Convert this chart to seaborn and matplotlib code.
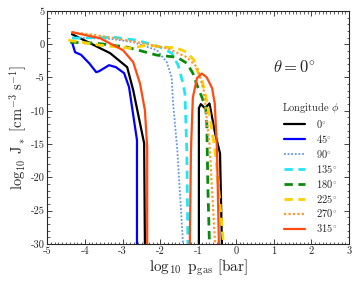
import numpy as np
import matplotlib
matplotlib.use("Agg")
import matplotlib.pyplot as plt
import seaborn as sns
from matplotlib.ticker import MultipleLocator

sns.set_style("ticks")
plt.rcParams.update({
    "font.family": ["cmr10", "DejaVu Serif"],
    "mathtext.fontset": "cm",
    "axes.unicode_minus": False,
    "axes.formatter.use_mathtext": False,
    "xtick.direction": "in",
    "ytick.direction": "in",
    "xtick.top": True,
    "ytick.right": True,
})

# ---- data (log10 p_gas [bar], log10 J*) ----
labels = [r"$0^{\circ}$", r"$45^{\circ}$", r"$90^{\circ}$", r"$135^{\circ}$",
          r"$180^{\circ}$", r"$225^{\circ}$", r"$270^{\circ}$", r"$315^{\circ}$"]

x0 = [-4.34, -3.33, -2.88, -2.72, -2.43, -2.41, np.nan, -0.98, -0.98, -0.93, -0.82, -0.70, -0.55, -0.42, -0.37]
y0 = [1.5, -1.35, -3.45, -6.9, -14.9, -30, np.nan, -30, -9.6, -9.0, -9.6, -8.9, -13.4, -16.4, -30]

x45 = [-4.34, -4.26, -4.1, -3.88, -3.70, -3.62, -3.36, -3.18, -2.96, -2.83, -2.62, -2.62]
y45 = [0.3, -1.2, -1.6, -2.9, -4.2, -4.05, -3.15, -3.45, -4.35, -6.45, -14.4, -30]

x90 = [-4.34, -3.3, -2.72, -2.09, -1.83, -1.70, -1.67, -1.55, -1.40]
y90 = [1.0, 0.8, 0.3, -0.9, -2.7, -5.0, -8.4, -16.0, -30]

x135 = [-4.34, -3.25, -2.62, -2.0, -1.70, -1.53, -1.40, -1.35, -1.30, -1.27]
y135 = [0.9, 1.05, 0.6, -0.45, -1.35, -3.15, -5.9, -7.4, -16.0, -30]

x180 = [-4.39, -3.70, -2.88, -2.09, -1.56, -1.30, -1.14, -1.03, -0.90, -0.80, -0.77, -0.74, -0.70]
y180 = [0.3, 0.15, -0.45, -1.65, -1.95, -2.85, -4.35, -6.15, -7.95, -9.5, -11.9, -22, -30]

x225 = [-4.44, -3.60, -2.80, -2.35, -1.83, -1.56, -1.30, -1.11, -1.03, -0.90, -0.80, -0.67, -0.53, -0.45, -0.33]
y225 = [0.6, -0.15, -0.6, -0.15, -0.45, -0.6, -1.2, -2.4, -3.9, -5.4, -7.7, -11.5, -17, -22, -30]

x270 = [-4.34, -3.70, -3.20, -2.62, -1.83, -1.30, -1.03, -0.96, -0.85, -0.70, -0.55]
y270 = [1.8, 1.35, 0.9, 0.3, -0.6, -1.95, -3.45, -4.65, -7.0, -15.0, -30]

x315 = [-4.34, -3.60, -2.99, -2.72, -2.54, -2.41, -2.35, -2.35, np.nan,
        -1.22, -1.19, -1.14, -1.03, -0.90, -0.77, -0.63, -0.56, -0.50, -0.45]
y315 = [1.8, 0.9, -0.9, -2.7, -5.9, -9.9, -15.5, -30, np.nan,
        -30, -15.9, -8.0, -5.1, -4.4, -5.0, -6.6, -8.9, -15.9, -30]

series = [(x0, y0), (x45, y45), (x90, y90), (x135, y135),
          (x180, y180), (x225, y225), (x270, y270), (x315, y315)]
colors = ["black", "#0000ff", "#6495ed", "#22e5f5", "#0a8a0a", "#ffd000", "#ff9a30", "#ff4a10"]
styles = ["-", "-", (0, (1, 1)), (0, (3, 2)), (0, (3, 2)), (0, (3, 2)), (0, (1, 1)), "-"]
widths = [1.6, 1.6, 1.3, 2.0, 2.0, 2.0, 1.6, 1.6]

fig = plt.figure(figsize=(3.57, 2.87), dpi=100)
ax = fig.add_axes([0.132, 0.150, 0.846, 0.812])

for (xs, ys), lab, c, ls, lw in zip(series, labels, colors, styles, widths):
    xs = np.array(xs, dtype=float)
    ys = np.array(ys, dtype=float)
    breaks = np.where(np.isnan(xs))[0]
    segs = np.split(np.arange(len(xs)), breaks)
    first = True
    for idx in segs:
        idx = idx[~np.isnan(xs[idx])]
        sns.lineplot(x=xs[idx], y=ys[idx], ax=ax, color=c, linestyle=ls, linewidth=lw,
                     sort=False, estimator=None, label=lab if first else None,
                     legend=False)
        first = False

ax.set_xlim(-5, 3)
ax.set_ylim(-30, 5)
ax.xaxis.set_major_locator(MultipleLocator(1))
ax.xaxis.set_minor_locator(MultipleLocator(0.1))
ax.yaxis.set_major_locator(MultipleLocator(5))
ax.yaxis.set_minor_locator(MultipleLocator(1))
ax.tick_params(which="major", length=3.5, width=0.6, labelsize=7.5, pad=2)
ax.tick_params(which="minor", length=1.8, width=0.5)
for s in ax.spines.values():
    s.set_linewidth(0.8)

ax.set_xlabel(r"$\log_{10}\ \mathrm{p}_{\mathrm{gas}}\ [\mathrm{bar}]$", fontsize=11, labelpad=1)
ax.set_ylabel(r"$\log_{10}\ \mathrm{J}_*\ [\mathrm{cm}^{-3}\ \mathrm{s}^{-1}]$", fontsize=10.5, labelpad=1)

ax.text(1.55, -3.4, r"$\theta = 0^{\circ}$", fontsize=12, ha="center", va="center")

leg = ax.legend(title=r"Longitude $\phi$", loc="upper left", bbox_to_anchor=(0.757, 0.64),
                frameon=False, fontsize=7.5, title_fontsize=7.5, handlelength=2.0,
                labelspacing=0.28, handletextpad=1.0, borderaxespad=0.2)

fig.savefig("out.png", dpi=100)
